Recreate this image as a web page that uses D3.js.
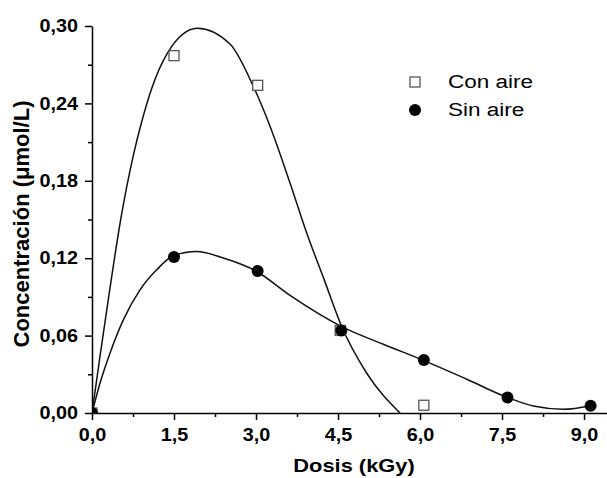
<!DOCTYPE html>
<html>
<head>
<meta charset="utf-8">
<script src="https://cdn.jsdelivr.net/npm/d3@7"></script>
<style>
  body { margin: 0; background: #fff; }
  svg { display: block; }
</style>
</head>
<body>
<div id="chart"></div>
<script>
// measured points
var conX = [0, 1.5, 3.03, 4.54, 6.07];
var conY = [0, 0.277, 0.254, 0.064, 0.006];
var sinX = [0, 1.5, 3.03, 4.56, 6.07, 7.6, 9.12];
var sinY = [0, 0.121, 0.110, 0.064, 0.041, 0.012, 0.0057];

// fitted curves
var conFitX = [0, 0.15, 0.3, 0.525, 0.755, 0.92, 1.092, 1.385, 1.926, 2.524, 2.95, 3.256, 3.622, 3.927, 4.25, 4.567, 5.025, 5.634];
var conFitY = [0, 0.045, 0.0885, 0.150, 0.1995, 0.2275, 0.2516, 0.2794, 0.2983, 0.286, 0.2533, 0.2223, 0.1783, 0.1395, 0.103, 0.067, 0.0308, 0];
var sinFitX = [0, 0.146, 0.329, 0.573, 0.878, 1.183, 1.487, 1.915, 2.402, 3.013, 3.622, 4.567, 5.328, 6.073, 6.854, 7.597, 8.072, 8.621, 9.122];
var sinFitY = [0, 0.0231, 0.0464, 0.0722, 0.0955, 0.111, 0.1219, 0.1252, 0.1201, 0.1097, 0.0912, 0.067, 0.0533, 0.0406, 0.0262, 0.0121, 0.0054, 0.0029, 0.0057];

var xTicks = [0, 1.5, 3.0, 4.5, 6.0, 7.5, 9.0];
var xMinor = [0.75, 2.25, 3.75, 5.25, 6.75, 8.25];
var yTicks = [0, 0.06, 0.12, 0.18, 0.24, 0.30];
var yMinor = [0.03, 0.09, 0.15, 0.21, 0.27];

var seriesNames = ["Con aire", "Sin aire"];

var width = 607, height = 478;
var margin = {top: 26, right: 0, bottom: 65, left: 92};

var svg = d3.select("#chart").append("svg")
	.attr("width", width)
	.attr("height", height);

var x = d3.scaleLinear().domain([0, 9.42]).range([margin.left, width - margin.right]);
var y = d3.scaleLinear().domain([0, 0.30]).range([height - margin.bottom, margin.top]);

var es = d3.formatLocale({decimal: ",", thousands: ".", grouping: [3], currency: ["", " €"]});
var fx = es.format(".1f"), fy = es.format(".2f");

var sx = 1.1; // text in the picture is a bit wide

svg.append("clipPath").attr("id", "plot")
	.append("rect")
	.attr("x", margin.left).attr("y", 0)
	.attr("width", width - margin.left)
	.attr("height", height - margin.bottom);

// minor ticks
svg.append("g")
	.attr("transform", "translate(0," + y(0) + ")")
	.call(d3.axisBottom(x).tickValues(xMinor).tickSize(4).tickFormat(""))
	.call(function(g) { g.select(".domain").remove(); });
svg.append("g")
	.attr("transform", "translate(" + x(0) + ",0)")
	.call(d3.axisLeft(y).tickValues(yMinor).tickSize(4).tickFormat(""))
	.call(function(g) { g.select(".domain").remove(); });

var xAxis = svg.append("g")
	.attr("transform", "translate(0," + y(0) + ")")
	.call(d3.axisBottom(x).tickValues(xTicks).tickSize(7).tickSizeOuter(0).tickPadding(8).tickFormat(fx));
var yAxis = svg.append("g")
	.attr("transform", "translate(" + x(0) + ",0)")
	.call(d3.axisLeft(y).tickValues(yTicks).tickSize(7).tickSizeOuter(0).tickPadding(7).tickFormat(fy));

svg.selectAll(".tick line, .domain").attr("stroke", "#000").attr("stroke-width", 1.5);
svg.selectAll(".tick text")
	.attr("font-family", "'Liberation Sans', Arial, sans-serif")
	.attr("font-weight", "bold")
	.attr("font-size", 18)
	.attr("fill", "#000");
xAxis.selectAll(".tick text").attr("transform", "scale(" + sx + ",1)");
yAxis.selectAll(".tick text").attr("transform", "scale(" + sx + ",1)")
	.attr("x", -14 / sx);

var line = d3.line()
	.x(function(d) { return x(d[0]); })
	.y(function(d) { return y(d[1]); })
	.curve(d3.curveMonotoneX);

var plot = svg.append("g").attr("clip-path", "url(#plot)");

plot.append("path")
	.datum(d3.zip(conFitX, conFitY))
	.attr("d", line)
	.attr("fill", "none").attr("stroke", "#111").attr("stroke-width", 1.5);
plot.append("path")
	.datum(d3.zip(sinFitX, sinFitY))
	.attr("d", line)
	.attr("fill", "none").attr("stroke", "#111").attr("stroke-width", 1.5);

var sq = 10;
plot.selectAll("rect.con")
	.data(d3.zip(conX, conY))
	.enter().append("rect")
	.attr("class", "con")
	.attr("x", function(d) { return x(d[0]) - sq / 2; })
	.attr("y", function(d) { return y(d[1]) - sq / 2; })
	.attr("width", sq).attr("height", sq)
	.attr("fill", "#fff").attr("stroke", "#555").attr("stroke-width", 1.3);

plot.selectAll("circle.sin")
	.data(d3.zip(sinX, sinY))
	.enter().append("circle")
	.attr("class", "sin")
	.attr("cx", function(d) { return x(d[0]); })
	.attr("cy", function(d) { return y(d[1]); })
	.attr("r", 6)
	.attr("fill", "#000");

// legend
var legend = svg.append("g").attr("transform", "translate(415,82)");
legend.append("rect")
	.attr("x", -sq / 2).attr("y", -sq / 2)
	.attr("width", sq).attr("height", sq)
	.attr("fill", "#fff").attr("stroke", "#555").attr("stroke-width", 1.3);
legend.append("circle")
	.attr("cx", 0).attr("cy", 28).attr("r", 6).attr("fill", "#000");
legend.selectAll("text")
	.data(seriesNames)
	.enter().append("text")
	.attr("transform", function(d, i) { return "translate(33," + (6 + i * 28) + ") scale(1.25,1)"; })
	.attr("font-family", "'Liberation Sans', Arial, sans-serif")
	.attr("font-size", 18)
	.text(function(d) { return d; });

// axis titles
svg.append("text")
	.attr("transform", "translate(354,472) scale(1.15,1)")
	.attr("text-anchor", "middle")
	.attr("font-family", "'Liberation Sans', Arial, sans-serif")
	.attr("font-weight", "bold")
	.attr("font-size", 19)
	.text("Dosis (kGy)");

svg.append("text")
	.attr("transform", "translate(29,224) rotate(-90)")
	.attr("text-anchor", "middle")
	.attr("font-family", "'Liberation Sans', Arial, sans-serif")
	.attr("font-weight", "bold")
	.attr("font-size", 22)
	.text("Concentración (μmol/L)");
</script>
</body>
</html>
